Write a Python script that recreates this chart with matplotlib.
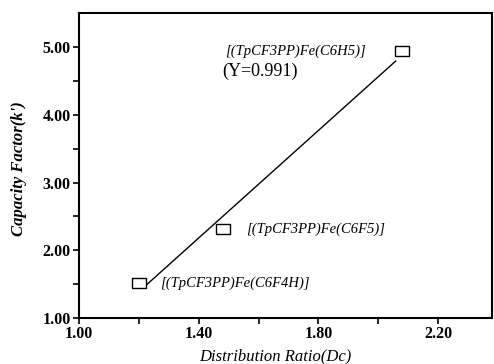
import numpy as np
import matplotlib.pyplot as plt
from matplotlib.ticker import FixedLocator

plt.rcParams['font.family'] = ['Liberation Serif', 'DejaVu Serif']

# datos
dc = [1.20, 1.48, 2.08]
kp = [1.52, 2.31, 4.94]
nombres = ['[(TpCF3PP)Fe(C6F4H)]', '[(TpCF3PP)Fe(C6F5)]', '[(TpCF3PP)Fe(C6H5)]']
r_texto = '(\u03a5=0.991)'
xticks = [1.00, 1.40, 1.80, 2.20]
xminor = [1.20, 1.60, 2.00]
yticks = [1.00, 2.00, 3.00, 4.00, 5.00]
yminor = [1.50, 2.50, 3.50, 4.50]

fig = plt.figure(figsize=(4.94, 3.64), dpi=100)
ax = fig.add_axes([0.16, 0.126, 0.836, 0.838])

# recta de ajuste
m, b = np.polyfit(dc, kp, 1)
xx = np.array([dc[0] + 0.025, dc[2] - 0.022])
ax.plot(xx, m * xx + b, color='black', lw=1.0)

rect = [(-1.45, -1), (1.45, -1), (1.45, 1), (-1.45, 1), (-1.45, -1)]
ax.plot(dc, kp, linestyle='none', marker=rect, markersize=9.5,
        markerfacecolor='white', markeredgecolor='black', markeredgewidth=1.0)

ax.text(1.27, 1.52, nombres[0], fontsize=10.5, style='italic', va='center', ha='left')
ax.text(1.56, 2.31, nombres[1], fontsize=10.5, style='italic', va='center', ha='left')
ax.text(1.487, 4.93, nombres[2], fontsize=10.5, style='italic', va='center', ha='left')
ax.text(1.48, 4.64, r_texto, fontsize=13, va='center', ha='left')

ax.set_xlim(1.0, 2.38)
ax.set_ylim(1.0, 5.5)
ax.xaxis.set_major_locator(FixedLocator(xticks))
ax.xaxis.set_minor_locator(FixedLocator(xminor))
ax.yaxis.set_major_locator(FixedLocator(yticks))
ax.yaxis.set_minor_locator(FixedLocator(yminor))
ax.xaxis.set_major_formatter(lambda v, p: '%.2f' % v)
ax.yaxis.set_major_formatter(lambda v, p: '%.2f' % v)
ax.tick_params(which='both', direction='out', width=1.2)
ax.tick_params(which='major', length=4, labelsize=11.5, pad=2)
ax.tick_params(which='minor', length=4)
for lab in ax.get_xticklabels() + ax.get_yticklabels():
    lab.set_fontweight('bold')
for s in ax.spines.values():
    s.set_linewidth(1.5)

ax.set_xlabel('Distribution Ratio(Dc)', fontsize=12, style='italic')
ax.xaxis.set_label_coords(0.475, -0.1)
ax.set_ylabel("Capacity Factor(k')", fontsize=12, style='italic', fontweight='bold')
ax.yaxis.set_label_coords(-0.125, 0.49)

fig.savefig('out.png', dpi=100)
